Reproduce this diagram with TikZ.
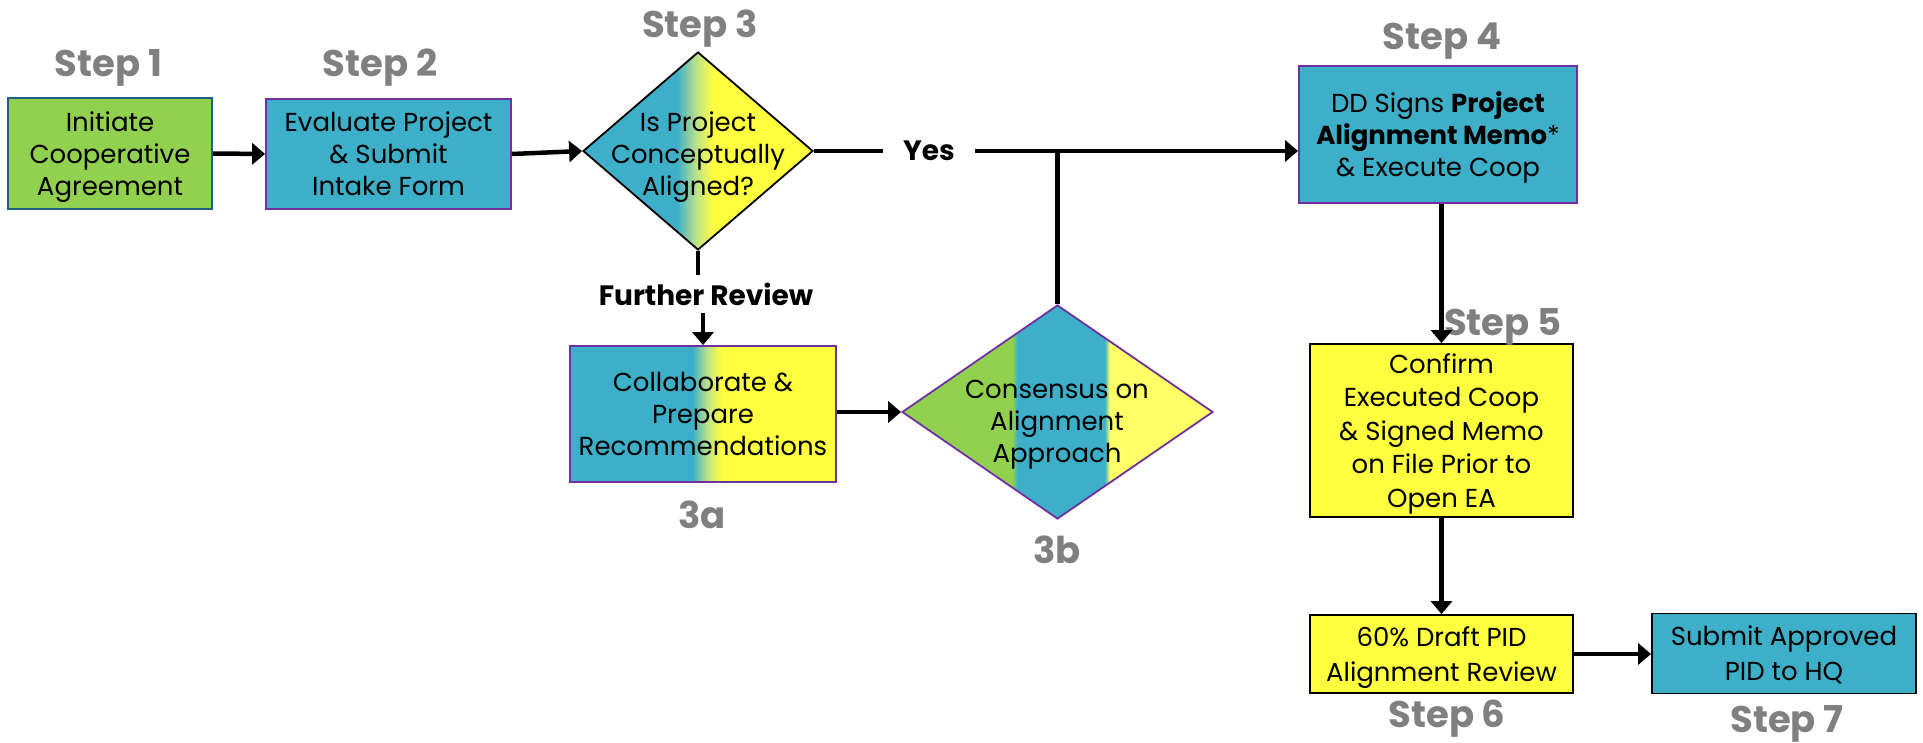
\documentclass[tikz,border=0pt]{standalone}
\usepackage{fontspec}
\setmainfont{Poppins}
\usetikzlibrary{shapes.geometric,arrows.meta}
\definecolor{cgreen}{HTML}{92D050}
\definecolor{cblue}{HTML}{3DAFC8}
\definecolor{cyel}{HTML}{FFFF40}
\definecolor{cpale}{HTML}{FFFF66}
\definecolor{cmid}{HTML}{BCE28A}
\definecolor{cpurple}{HTML}{7030A0}
\definecolor{cnavy}{HTML}{1F5F7F}
\definecolor{cgray}{HTML}{808080}
\pgfdeclarehorizontalshading{shdthree}{100bp}{color(0bp)=(cblue); color(45.4bp)=(cblue); color(49.6bp)=(cmid); color(53.3bp)=(cyel); color(100bp)=(cyel)}
\pgfdeclarehorizontalshading{shdthreea}{100bp}{color(0bp)=(cblue); color(48bp)=(cblue); color(50.8bp)=(cmid); color(53.5bp)=(cyel); color(100bp)=(cyel)}
\pgfdeclarehorizontalshading{shdthreeb}{100bp}{color(0bp)=(cgreen); color(42.8bp)=(cgreen); color(43.5bp)=(cblue); color(57.6bp)=(cblue); color(58.4bp)=(cpale); color(100bp)=(cpale)}
\tikzset{
  box/.style={draw, line width=1.8pt, align=center, inner sep=0pt, text depth=0pt, font=\fontsize{26}{32}\selectfont},
  dia/.style={draw, diamond, inner sep=0pt, line width=1.8pt},
  diatext/.style={align=center, inner sep=0pt, text depth=0pt, font=\fontsize{26}{32}\selectfont},
  steplbl/.style={text=cgray, anchor=base, inner sep=0pt, font=\fontsize{37}{40}\selectfont\bfseries},
  lbl/.style={inner sep=0pt, text depth=0pt, font=\fontsize{28}{32}\selectfont\bfseries},
  ln/.style={line width=4.5pt},
  arr/.style={line width=4.5pt, -{Triangle[length=13pt,width=21pt]}},
}
\begin{document}
\begin{tikzpicture}[x=1pt,y=-1pt]
\useasboundingbox (0,0) rectangle (1923,743);
\fill[white] (0,0) rectangle (1923,743);
% boxes
\node[box, draw=cnavy, fill=cgreen, minimum width=204pt, minimum height=111pt] (s1) at (110,153.5) {Initiate\\Cooperative\\Agreement};
\node[box, draw=cpurple, fill=cblue, minimum width=245pt, minimum height=110pt] (s2) at (388.5,154) {Evaluate Project\\\& Submit\\Intake Form};
\node[dia, draw=black, shading=shdthree, minimum width=230pt, minimum height=198pt] (d3) at (698,151) {};
\node[diatext] (d3t) at (698,153.5) {Is Project\\Conceptually\\Aligned?};
\node[box, draw=cpurple, fill=cblue, minimum width=278pt, minimum height=137pt] (s4) at (1438,134.5) {DD Signs \textbf{Project}\\\textbf{Alignment Memo}*\\\& Execute Coop};
\node[box, draw=black, fill=cyel, minimum width=263pt, minimum height=173pt, font=\fontsize{26}{33.5}\selectfont] (s5) at (1441.5,430.5) {Confirm\\Executed Coop\\\& Signed Memo\\on File Prior to\\Open EA};
\node[box, draw=black, fill=cyel, minimum width=263pt, minimum height=78pt, font=\fontsize{26}{35}\selectfont] (s6) at (1441.5,654) {60\% Draft PID\\Alignment Review};
\node[box, draw=black, fill=cblue, minimum width=264pt, minimum height=80pt, font=\fontsize{26}{35}\selectfont] (s7) at (1784,653.5) {Submit Approved\\PID to HQ};
\node[box, draw=cpurple, shading=shdthreea, minimum width=266pt, minimum height=136pt] (s3a) at (703,414) {Collaborate \&\\Prepare\\Recommendations};
\node[dia, draw=cpurple, shading=shdthreeb, minimum width=311pt, minimum height=214pt] (d3b) at (1057.5,412) {};
\node[diatext] (d3bt) at (1057,421.5) {Consensus on\\Alignment\\Approach};
% labels
\node[steplbl] (l1) at (108.5,77) {Step 1};
\node[steplbl] (l2) at (380,77) {Step 2};
\node[steplbl] (l3) at (700,38) {Step 3};
\node[steplbl] (l4) at (1442,50) {Step 4};
\node[steplbl] (l5) at (1503,336) {Step 5};
\node[steplbl] (l6) at (1447,727) {Step 6};
\node[steplbl] (l7) at (1787,732) {Step 7};
\node[steplbl] (l3a) at (702,528) {3a};
\node[steplbl] (l3b) at (1057,563) {3b};
\node[lbl, minimum width=92pt] (yes) at (929,151) {Yes};
\node[lbl, minimum height=38pt] (fr) at (706,294) {Further Review};
% connectors
\draw[arr] (s1.east) -- (s2.west);
\draw[arr] (s2.east) -- (d3.west);
\draw[ln] (d3.east) -- (yes.west);
\draw[arr] (yes.east) -- (s4.west |- yes.east);
\draw[ln] (d3b.north) -- (d3b.north |- yes.east);
\draw[ln] (d3.south) -- (d3.south |- fr.north);
\draw[arr] (s3a.north |- fr.south) -- (s3a.north);
\draw[arr] (s3a.east |- d3b.west) -- (d3b.west);
\draw[arr] (s5.north |- s4.south) -- (s5.north);
\draw[arr] (s5.south) -- (s6.north);
\draw[arr] (s6.east) -- (s6.east -| s7.west);
\end{tikzpicture}
\end{document}
